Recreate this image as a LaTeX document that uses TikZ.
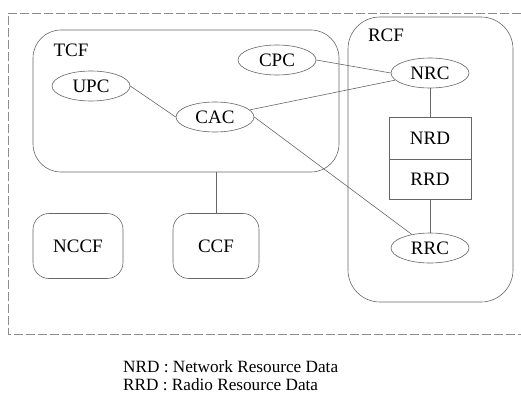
\documentclass[tikz,border=0pt]{standalone}
\usepackage{fontspec}
\setmainfont{Liberation Serif}
\usetikzlibrary{shapes.geometric}
\begin{document}
\begin{tikzpicture}[x=1pt,y=-1pt,
  ln/.style={draw=black!60, line width=0.6pt},
  ell/.style={ellipse, ln, minimum width=78pt, minimum height=30pt, inner sep=0pt, font=\fontsize{19}{22}\selectfont},
  grp/.style={ln, rectangle, inner sep=0pt},
  sub/.style={ln, rectangle, rounded corners=16pt, inner sep=0pt, font=\fontsize{19}{22}\selectfont},
  databox/.style={ln, rectangle, minimum width=82pt, inner sep=0pt, font=\fontsize{19}{22}\selectfont},
  lbl/.style={inner sep=0pt, font=\fontsize{19}{22}\selectfont},
  legend/.style={inner sep=0pt, anchor=base west, font=\fontsize{17.2}{19}\selectfont}]
\useasboundingbox (0,0) rectangle (521,396);
% outer frame (right side not shown)
\draw[draw=black!45, line width=0.5pt, dash pattern=on 9pt off 3pt] (521,13) -- (8,13) -- (8,334) -- (521,334);
% groups
\node[grp, rounded corners=28pt, minimum width=306pt, minimum height=142pt] (tcf) at (186,101) {};
\node[grp, rounded corners=32pt, minimum width=165pt, minimum height=285pt] (rcf) at (430.5,159.5) {};
\node[lbl] (tcflbl) at (71,50) {TCF};
\node[lbl] (rcflbl) at (386,35) {RCF};
% functions
\node[ell] (upc) at (91,86) {UPC};
\node[ell] (cac) at (215,117) {CAC};
\node[ell] (cpc) at (277,60) {CPC};
\node[ell] (nrc) at (430,73) {NRC};
\node[ell] (rrc) at (430,248) {RRC};
\node[databox, minimum height=42pt] (nrd) at (430,138) {NRD};
\node[databox, minimum height=40pt] (rrd) at (430,179) {RRD};
\node[sub, minimum width=90pt, minimum height=65pt] (nccf) at (78,246) {NCCF};
\node[sub, minimum width=86pt, minimum height=65pt] (ccf) at (216,246) {CCF};
% connectors
\draw[ln] (upc.east) -- (cac.west);
\draw[ln] (cac) -- (nrc);
\draw[ln] (cpc.east) -- (nrc.west);
\draw[ln] (cac.east) -- (rrc);
\draw[ln] (nrc) -- (nrd);
\draw[ln] (rrd) -- (rrc);
\draw[ln] (ccf.north) -- (ccf.north |- tcf.south);
% legend
\node[legend] (leg1) at (123,372) {NRD : Network Resource Data};
\node[legend] (leg2) at (123,390) {RRD : Radio Resource Data};
\end{tikzpicture}
\end{document}
